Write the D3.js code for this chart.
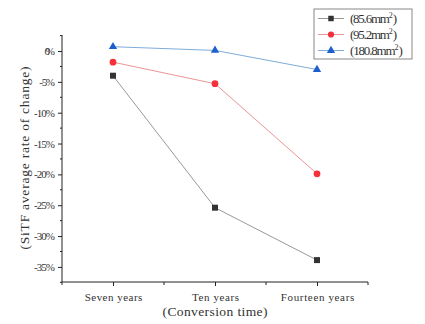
<!DOCTYPE html>
<meta charset="utf-8">
<style>
body { margin: 0; background: #fff; }
text { font-family: "Liberation Serif", "DejaVu Serif", serif; fill: #333; }
.axis path, .axis line { stroke: #222; }
</style>
<svg width="425" height="324"></svg>
<script src="https://cdn.jsdelivr.net/npm/d3@7"></script>
<script>
var categories = ["Seven years", "Ten years", "Fourteen years"];
var yTicks = [0, -5, -10, -15, -20, -25, -30, -35];
var s856 = [-4.0, -25.4, -33.9];
var s952 = [-1.8, -5.3, -19.9];
var s1808 = [0.7, 0.1, -3.0];

var series = [
  {name: "(85.6mm", vals: s856, line: "#8c8c8c", mark: "#333", shape: d3.symbolSquare},
  {name: "(95.2mm", vals: s952, line: "#e8898c", mark: "#f4303a", shape: d3.symbolCircle},
  {name: "(180.8mm", vals: s1808, line: "#6ea3d6", mark: "#1e5fd0", shape: d3.symbolTriangle}
];

var svg = d3.select("svg");
var mLeft = 62, mRight = 368, mTop = 35, mBottom = 282;

var x = d3.scaleLinear().domain([0.5, 3.5]).range([mLeft, mRight]);
var y = d3.scaleLinear().domain([-37.45, 2.6]).range([mBottom, mTop]);

// y axis
var ya = svg.append("g").attr("class", "axis").attr("transform", "translate(" + mLeft + ",0)");
ya.call(d3.axisLeft(y).tickValues(yTicks).tickSize(4).tickPadding(3)
    .tickFormat(function(d) { return d + "%"; }));
ya.select(".domain").attr("d", "M0," + mTop + "V" + mBottom);
ya.selectAll(".tick text").attr("font-size", 11).attr("textLength", function(d) { return (String(d).length + 1) * 5.25; });
ya.selectAll("line.minor").data(d3.range(-37.5, 2.6, 2.5).filter(function(v) { return v % 5 !== 0; }))
  .enter().append("line").attr("class", "minor")
  .attr("x1", 0).attr("x2", -2).attr("y1", function(d) { return y(d); }).attr("y2", function(d) { return y(d); })
  .attr("stroke", "#222");

// x axis
var xa = svg.append("g").attr("class", "axis").attr("transform", "translate(0," + mBottom + ")");
xa.call(d3.axisBottom(x).tickValues([1, 2, 3]).tickSize(4).tickPadding(7)
    .tickFormat(function(d) { return categories[d - 1]; }));
xa.select(".domain").attr("d", "M" + mLeft + ",0H" + mRight);
xa.selectAll(".tick text").attr("font-size", 11).attr("textLength", function(d) { return categories[d - 1].length * 5.25; });
xa.selectAll("line.minor").data([0.5, 1.5, 2.5, 3.5])
  .enter().append("line").attr("class", "minor")
  .attr("y1", 0).attr("y2", 3).attr("x1", function(d) { return x(d); }).attr("x2", function(d) { return x(d); })
  .attr("stroke", "#222");

// axis titles
svg.append("text").attr("x", (mLeft + mRight) / 2).attr("y", 316).attr("text-anchor", "middle")
  .attr("font-size", 13.5).attr("textLength", 105).text("(Conversion time)");
svg.append("text").attr("transform", "translate(29,158) rotate(-90)").attr("text-anchor", "middle")
  .attr("font-size", 13.5).attr("textLength", 183).text("(SiTF average rate of change)");

// lines and markers
var line = d3.line().x(function(d, i) { return x(i + 1); }).y(function(d) { return y(d); });
series.forEach(function(s) {
  svg.append("path").attr("d", line(s.vals)).attr("fill", "none").attr("stroke", s.line).attr("stroke-width", 0.9);
  svg.selectAll(null).data(s.vals).enter().append("path")
    .attr("d", d3.symbol().type(s.shape).size(s.shape === d3.symbolTriangle ? 30 : 36))
    .attr("transform", function(d, i) { return "translate(" + x(i + 1) + "," + y(d) + ")"; })
    .attr("fill", s.mark);
});

// legend
var lg = svg.append("g").attr("transform", "translate(314,9)");
lg.append("rect").attr("width", 98).attr("height", 50).attr("fill", "#fff").attr("stroke", "#888").attr("stroke-width", 1);
series.forEach(function(s, i) {
  var row = lg.append("g").attr("transform", "translate(0," + (9.5 + i * 16) + ")");
  row.append("line").attr("x1", 4).attr("x2", 30).attr("stroke", s.line).attr("stroke-width", 0.9);
  row.append("path").attr("d", d3.symbol().type(s.shape).size(30)).attr("transform", "translate(17,0)").attr("fill", s.mark);
  var t = row.append("text").attr("x", 36).attr("y", 4.5).attr("font-size", 13);
  t.append("tspan").attr("textLength", (s.name.length) * 5.7).text(s.name);
  t.append("tspan").attr("font-size", 8).attr("dy", -5).text("2");
  t.append("tspan").attr("dy", 5).text(")");
});
</script>
